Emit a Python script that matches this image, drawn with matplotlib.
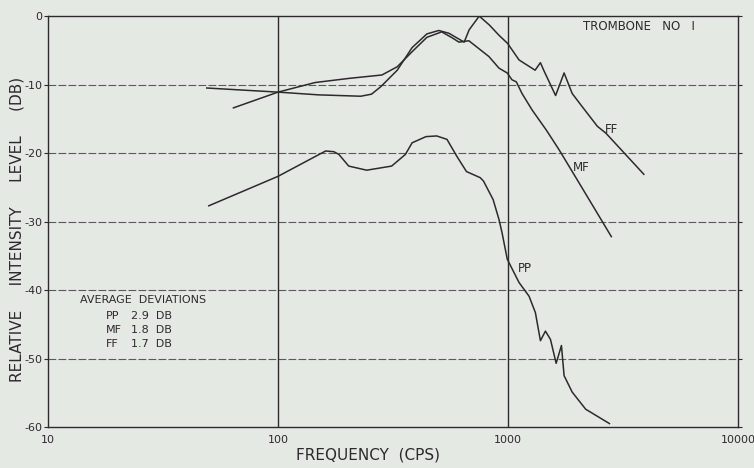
import matplotlib

matplotlib.use("Agg")
import matplotlib.pyplot as plt

PAPER = "#e5e9e3"
INK = "#2b2b2b"
GRID = "#5a5a5a"

# values (frequency in cps, level in dB)
ff_freq = [49, 100, 150, 229, 255, 280, 330, 383, 444, 500, 553, 645, 678, 750,
           830, 914, 997, 1117, 1312, 1384, 1430, 1611, 1754, 1902, 2100, 2449,
           2667, 3898]
ff_db = [-10.5, -11.1, -11.5, -11.7, -11.4, -10.3, -7.9, -4.6, -2.6, -2.1, -2.5,
         -3.8, -2.0, 0.0, -1.3, -2.8, -4.0, -6.4, -7.9, -6.8, -7.9, -11.6, -8.3,
         -11.3, -13.2, -16.1, -17.1, -23.1]

mf_freq = [64, 100, 145, 203, 283, 330, 383, 444, 515, 574, 612, 676, 826, 914,
           992, 1041, 1087, 1151, 1273, 1465, 1667, 1880, 2254, 2815]
mf_db = [-13.4, -11.1, -9.7, -9.1, -8.6, -7.4, -5.2, -3.1, -2.3, -3.2, -3.8, -3.6,
         -5.9, -7.6, -8.3, -9.3, -9.6, -11.3, -13.7, -16.6, -19.5, -22.4, -26.8,
         -32.2]

pp_freq = [50, 100, 161, 175, 184, 203, 243, 312, 358, 383, 440, 490, 543, 600,
           660, 758, 783, 862, 914, 942, 993, 1117, 1235, 1316, 1384, 1455, 1530,
           1620, 1708, 1754, 1902, 2177, 2762]
pp_db = [-27.7, -23.4, -19.7, -19.8, -20.2, -21.9, -22.5, -21.9, -20.2, -18.5,
         -17.6, -17.5, -18.0, -20.5, -22.7, -23.6, -24.1, -26.8, -29.7, -31.6,
         -35.5, -38.9, -40.9, -43.3, -47.4, -46.0, -47.2, -50.7, -48.1, -52.5,
         -54.9, -57.4, -59.5]

x_ticks = [10, 100, 1000, 10000]
y_ticks = [0, -10, -20, -30, -40, -50, -60]
deviations = [("PP", "2.9"), ("MF", "1.8"), ("FF", "1.7")]

plt.rcParams["font.family"] = "DejaVu Sans"

fig = plt.figure(figsize=(7.54, 4.68), dpi=100, facecolor=PAPER)
ax = fig.add_axes([0.0637, 0.0876, 0.915, 0.878], facecolor=PAPER)

ax.set_xscale("log")
ax.set_xlim(10, 10000)
ax.set_ylim(-60, 0)

# horizontal rules dashed, decade rules solid
for v in y_ticks[1:-1]:
    ax.axhline(v, color=GRID, lw=0.8, ls=(0, (7, 2)), zorder=1)
for v in x_ticks[1:-1]:
    ax.axvline(v, color=INK, lw=1.0, zorder=1)

for f, d in ((ff_freq, ff_db), (mf_freq, mf_db), (pp_freq, pp_db)):
    ax.plot(f, d, color=INK, lw=1.1, zorder=3, solid_joinstyle="round")

for s in ax.spines.values():
    s.set_color(INK)
    s.set_linewidth(1.0)

ax.set_xticks(x_ticks)
ax.set_xticklabels([str(v) for v in x_ticks])
ax.minorticks_off()
ax.set_yticks(y_ticks)
ax.set_yticklabels([str(v) for v in y_ticks])
ax.tick_params(axis="both", colors=INK, labelsize=8, length=3, width=0.8)
ax.tick_params(axis="x", length=0, pad=6)
ax.tick_params(axis="y", pad=1, right=True)

ax.set_xlabel("FREQUENCY  (CPS)", fontsize=11, color=INK)
ax.xaxis.set_label_coords(0.464, -0.051)
ax.set_ylabel("RELATIVE     INTENSITY     LEVEL     (DB)", fontsize=11, color=INK)
ax.yaxis.set_label_coords(-0.034, 0.48)

ax.text(0.775, 0.975, "TROMBONE   NO   I", transform=ax.transAxes, fontsize=8.5,
        color=INK, ha="left", va="center")

ax.text(2647, -16.6, "FF", fontsize=8.5, color=INK, ha="left", va="center")
ax.text(1915, -22.05, "MF", fontsize=8.5, color=INK, ha="left", va="center")
ax.text(1106, -36.9, "PP", fontsize=8.5, color=INK, ha="left", va="center")

ax.text(0.047, 0.31, "AVERAGE  DEVIATIONS", transform=ax.transAxes, fontsize=8,
        color=INK, ha="left", va="center")
for i, (name, val) in enumerate(deviations):
    yy = 0.27 - i * 0.034
    ax.text(0.084, yy, name, transform=ax.transAxes, fontsize=8, color=INK,
            ha="left", va="center")
    ax.text(0.12, yy, f"{val}  DB", transform=ax.transAxes, fontsize=8,
            color=INK, ha="left", va="center")

fig.savefig("out.png", dpi=100, facecolor=PAPER)
